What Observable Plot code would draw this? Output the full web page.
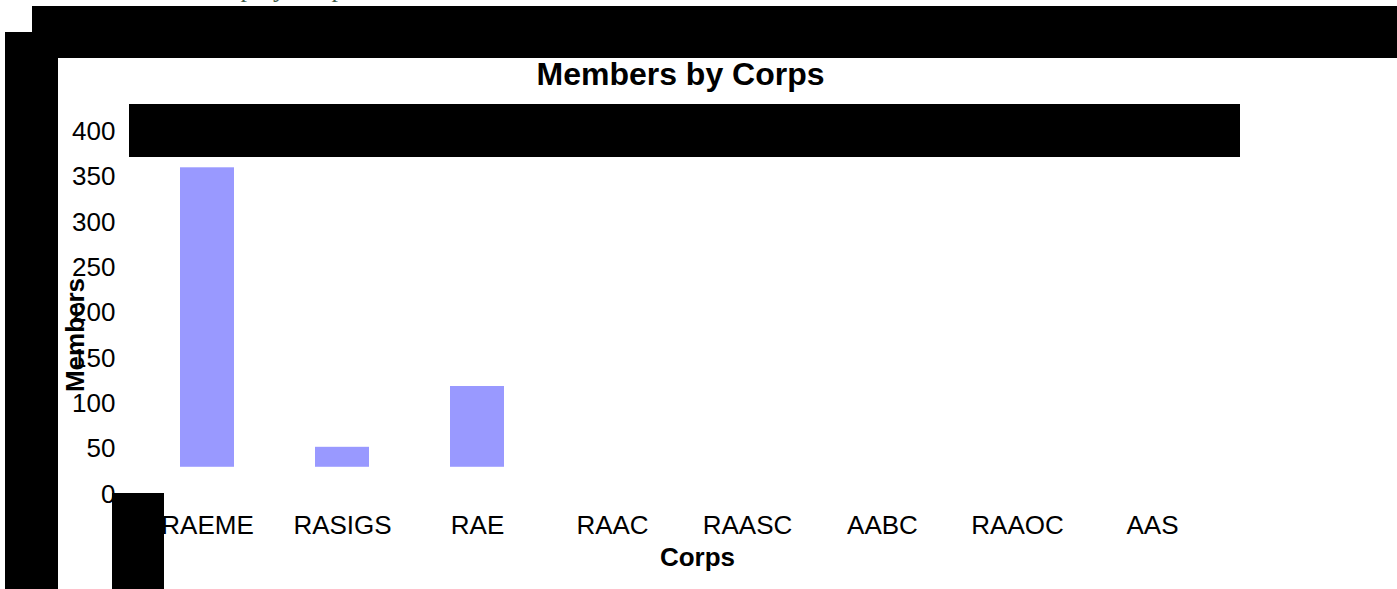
<!DOCTYPE html>
<html>
<head>
<meta charset="utf-8">
<script src="https://cdn.jsdelivr.net/npm/d3@7"></script>
<script src="https://cdn.jsdelivr.net/npm/@observablehq/plot@0.6"></script>
<style>
  html, body { margin: 0; padding: 0; background: #fff; }
  #wrap { position: relative; width: 1397px; height: 589px; overflow: hidden; font-family: "Liberation Sans", Arial, sans-serif; }
  #wrap svg { position: absolute; left: 0; top: 0; }
  .blk { position: absolute; background: #000; }
  #toptext { position: absolute; left: 122px; top: -24px; font-family: "Liberation Serif", serif; font-size: 26px; line-height: 26px; color: #3d5a47; white-space: nowrap; }
</style>
</head>
<body>
<div id="wrap">
  <div id="toptext">Membership by Corps</div>
</div>
<script>
const corps = ["RAEME", "RASIGS", "RAE", "RAAC", "RAASC", "AABC", "RAAOC", "AAS"];
const members = [360, 52, 119, 0, 0, 0, 0, 0];
const barBase = 30;
const yTicks = [0, 50, 100, 150, 200, 250, 300, 350, 400];

const data = corps.map((c, i) => ({corps: c, members: members[i]}));
const drawn = data.filter(d => d.members > barBase);

const chart = Plot.plot({
  width: 1397,
  height: 589,
  marginLeft: 138,
  marginRight: 177,
  marginTop: 131,
  marginBottom: 95,
  style: {fontFamily: "'Liberation Sans', Arial, sans-serif", background: "transparent", color: "#000"},
  x: {domain: corps, paddingInner: 0.6, paddingOuter: 0.3, label: null},
  y: {domain: [0, 400], label: null},
  marks: [
    Plot.rectY(drawn, {x: "corps", y1: () => barBase, y2: "members", fill: "#9999FF"}),
    Plot.axisY({ticks: yTicks, tickSize: 0, tickPadding: 23, fontSize: 26, label: null}),
    Plot.axisX({tickSize: 0, tickPadding: 21, fontSize: 26, label: null}),
    Plot.text(["Members by Corps"], {frameAnchor: "top", dy: -69, dx: 1, fontSize: 32, fontWeight: "bold"}),
    Plot.text(["Members"], {frameAnchor: "left", textAnchor: "middle", dx: -63, dy: 22, rotate: -90, fontSize: 26, fontWeight: "bold"}),
    Plot.text(["Corps"], {frameAnchor: "bottom", dx: 18, dy: 71, fontSize: 26, fontWeight: "bold"})
  ]
});
const wrap = document.getElementById("wrap");
wrap.appendChild(chart);

// opaque black overlay blocks present in the reference picture
const blocks = [
  [32, 6, 1365, 52],
  [5, 32, 53, 557],
  [129, 104, 1111, 53],
  [112, 493, 52, 96]
];
for (const [l, t, w, h] of blocks) {
  const d = document.createElement("div");
  d.className = "blk";
  d.style.left = l + "px"; d.style.top = t + "px";
  d.style.width = w + "px"; d.style.height = h + "px";
  wrap.appendChild(d);
}
</script>
</body>
</html>
